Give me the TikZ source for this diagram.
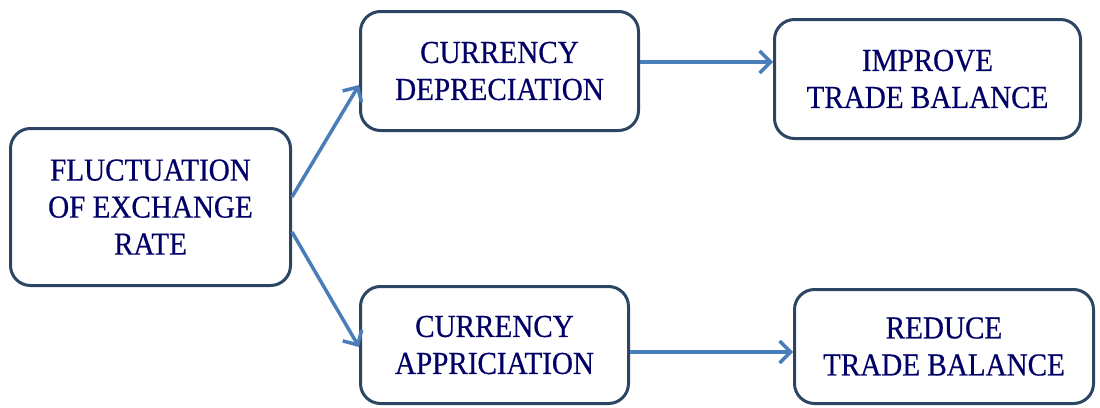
\documentclass[tikz,border=0pt]{standalone}
\usepackage{fontspec}
\setmainfont{Liberation Serif}[FakeStretch=0.91,FakeBold=0.5]
\usetikzlibrary{arrows.meta}
\definecolor{boxline}{HTML}{2B4562}
\definecolor{txt}{HTML}{000066}
\definecolor{arr}{HTML}{4A7EBB}
\begin{document}
\begin{tikzpicture}[x=1pt,y=1pt,
  box/.style={draw=boxline, line width=3pt, rounded corners=20pt, fill=white, align=center, text=txt, font=\fontsize{32}{37}\selectfont, inner sep=0pt},
  conn/.style={draw=arr, line width=3.5pt, -{Straight Barb[length=11pt,width=22pt,line width=3.5pt]}}]
\useasboundingbox (0,0) rectangle (1100,-407);
\node[box, minimum width=280pt, minimum height=157pt] (fl) at (150.5,-207) {FLUCTUATION\\OF EXCHANGE\\RATE};
\node[box, minimum width=278pt, minimum height=119pt] (cd) at (499.5,-71) {CURRENCY\\DEPRECIATION};
\node[box, minimum width=306pt, minimum height=119pt] (itb) at (927.5,-79) {IMPROVE\\TRADE BALANCE};
\node[box, minimum width=268pt, minimum height=117pt] (ca) at (494.5,-345) {CURRENCY\\APPRICIATION};
\node[box, minimum width=299pt, minimum height=114pt] (rtb) at (944,-346.5) {REDUCE\\TRADE BALANCE};
\draw[conn] ([yshift=10pt]fl.east) -- ([yshift=-14pt]cd.west);
\draw[conn] ([yshift=-25pt]fl.east) -- ([yshift=-2pt]ca.west);
\draw[conn] ([yshift=9pt]cd.east) -- ([yshift=9pt]cd.east -| itb.west);
\draw[conn] ([yshift=-7pt]ca.east) -- ([yshift=-7pt]ca.east -| rtb.west);
\end{tikzpicture}
\end{document}
